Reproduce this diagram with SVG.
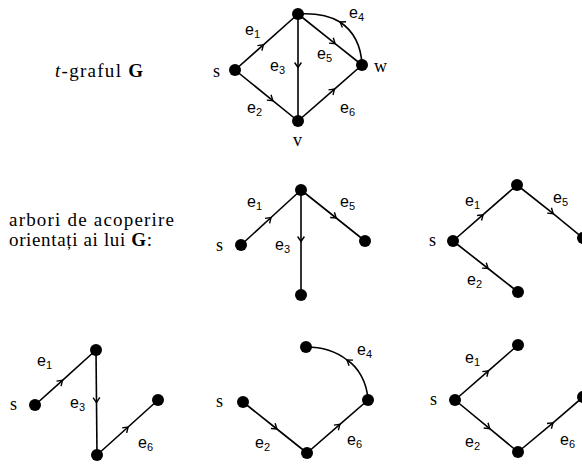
<svg xmlns="http://www.w3.org/2000/svg" width="582" height="464" viewBox="0 0 582 464">
<defs>
<marker id="arr" markerUnits="userSpaceOnUse" markerWidth="12" markerHeight="12" refX="0" refY="0" viewBox="-6 -6 12 12" orient="auto">
<path d="M-5,-3.4 L0,0 L-5,3.4" fill="none" stroke="#000" stroke-width="1.4"/>
</marker>
<style>
.e{fill:none;stroke:#000;stroke-width:1.6;marker-mid:url(#arr)}
.n{fill:#000}
.el{font-family:"Liberation Sans",Arial,sans-serif;font-size:16px;fill:#000}
.sub{font-size:11px}
.vl{font-family:"Liberation Serif","Times New Roman",serif;font-size:18px;fill:#000}
.tt{font-family:"Liberation Serif","Times New Roman",serif;font-size:19px;fill:#000}
</style>
</defs>
<rect width="582" height="464" fill="#fff"/>

<g id="captions">
<text class="tt" x="55" y="77" textLength="88" lengthAdjust="spacing"><tspan font-style="italic">t</tspan>-graful <tspan font-weight="bold">G</tspan></text>
<text class="tt" x="9" y="226" textLength="165" lengthAdjust="spacing">arbori de acoperire</text>
<text class="tt" x="9" y="246" textLength="143" lengthAdjust="spacing">orientați ai lui <tspan font-weight="bold">G</tspan>:</text>
</g>

<g id="connectors">
<!-- main graph -->
<path class="e" d="M235,70 L263.4,44.8 L298,14"/>
<path class="e" d="M235,70 L272.8,100.6 L298,121"/>
<path class="e" d="M298,14 L298,67.5 L298,121"/>
<path class="e" d="M298,14 L335.1,43.6 L362,65"/>
<path class="e" d="M298,121 L334.5,89.1 L362,65"/>
<path class="e" d="M362,65 C361,44 352,30 340,22 C330,16 315,13 298,14"/>
<!-- tree 1 -->
<path class="e" d="M241,245 L271,217.5 L301,190"/>
<path class="e" d="M301,190 L301,241.5 L301,295"/>
<path class="e" d="M301,190 L336.2,218 L365,241"/>
<!-- tree 2 -->
<path class="e" d="M453,241 L483.1,214.7 L517,185"/>
<path class="e" d="M517,185 L553.2,213.6 L583,238"/>
<path class="e" d="M453,241 L488.1,268.5 L518,292"/>
<!-- tree A -->
<path class="e" d="M35,405 L62.5,380.3 L96,350"/>
<path class="e" d="M96,350 L96.5,402.5 L97,455"/>
<path class="e" d="M97,455 L128.1,427 L158,400"/>
<!-- tree B -->
<path class="e" d="M243,402 L276.9,429 L307,453"/>
<path class="e" d="M307,453 L339.9,424.4 L368,400"/>
<path class="e" d="M368,400 C367,382 358,367 347,360 C337,352 322,347 306,347"/>
<!-- tree C -->
<path class="e" d="M455,400 L488.4,370.9 L518,345"/>
<path class="e" d="M455,400 L489.7,428.6 L518,452"/>
<path class="e" d="M518,452 L553,422.9 L583,397"/>
</g>

<g id="edge-labels">
<text class="el" x="245" y="35">e<tspan class="sub" dy="3">1</tspan></text>
<text class="el" x="247" y="113">e<tspan class="sub" dy="3">2</tspan></text>
<text class="el" x="270" y="71">e<tspan class="sub" dy="3">3</tspan></text>
<text class="el" x="349" y="18">e<tspan class="sub" dy="3">4</tspan></text>
<text class="el" x="317" y="59">e<tspan class="sub" dy="3">5</tspan></text>
<text class="el" x="340" y="113">e<tspan class="sub" dy="3">6</tspan></text>

<text class="el" x="247" y="207">e<tspan class="sub" dy="3">1</tspan></text>
<text class="el" x="275" y="250">e<tspan class="sub" dy="3">3</tspan></text>
<text class="el" x="340" y="207">e<tspan class="sub" dy="3">5</tspan></text>

<text class="el" x="465" y="206">e<tspan class="sub" dy="3">1</tspan></text>
<text class="el" x="553" y="203">e<tspan class="sub" dy="3">5</tspan></text>
<text class="el" x="467" y="285">e<tspan class="sub" dy="3">2</tspan></text>

<text class="el" x="37" y="366">e<tspan class="sub" dy="3">1</tspan></text>
<text class="el" x="70" y="408">e<tspan class="sub" dy="3">3</tspan></text>
<text class="el" x="138" y="448">e<tspan class="sub" dy="3">6</tspan></text>

<text class="el" x="255" y="448">e<tspan class="sub" dy="3">2</tspan></text>
<text class="el" x="347" y="445">e<tspan class="sub" dy="3">6</tspan></text>
<text class="el" x="357" y="355">e<tspan class="sub" dy="3">4</tspan></text>

<text class="el" x="465" y="363">e<tspan class="sub" dy="3">1</tspan></text>
<text class="el" x="465" y="447">e<tspan class="sub" dy="3">2</tspan></text>
<text class="el" x="560" y="445">e<tspan class="sub" dy="3">6</tspan></text>
</g>

<g id="g-s"><circle class="n" cx="235" cy="70" r="6"/><text class="vl" x="213" y="77">s</text></g>
<g id="g-top"><circle class="n" cx="298" cy="14" r="6"/></g>
<g id="g-w"><circle class="n" cx="362" cy="65" r="6"/><text class="vl" x="374" y="72">w</text></g>
<g id="g-v"><circle class="n" cx="298" cy="121" r="6"/><text class="vl" x="293" y="146">v</text></g>

<g id="t1-s"><circle class="n" cx="241" cy="245" r="6"/><text class="vl" x="216" y="251">s</text></g>
<g id="t1-top"><circle class="n" cx="301" cy="190" r="6"/></g>
<g id="t1-w"><circle class="n" cx="365" cy="241" r="6"/></g>
<g id="t1-v"><circle class="n" cx="301" cy="295" r="6"/></g>

<g id="t2-s"><circle class="n" cx="453" cy="241" r="6"/><text class="vl" x="429" y="246">s</text></g>
<g id="t2-top"><circle class="n" cx="517" cy="185" r="6"/></g>
<g id="t2-w"><circle class="n" cx="583" cy="238" r="6"/></g>
<g id="t2-v"><circle class="n" cx="518" cy="292" r="6"/></g>

<g id="t3-s"><circle class="n" cx="35" cy="405" r="6"/><text class="vl" x="10" y="410">s</text></g>
<g id="t3-top"><circle class="n" cx="96" cy="350" r="6"/></g>
<g id="t3-w"><circle class="n" cx="158" cy="400" r="6"/></g>
<g id="t3-v"><circle class="n" cx="97" cy="455" r="6"/></g>

<g id="t4-s"><circle class="n" cx="243" cy="402" r="6"/><text class="vl" x="216" y="407">s</text></g>
<g id="t4-top"><circle class="n" cx="306" cy="347" r="6"/></g>
<g id="t4-w"><circle class="n" cx="368" cy="400" r="6"/></g>
<g id="t4-v"><circle class="n" cx="307" cy="453" r="6"/></g>

<g id="t5-s"><circle class="n" cx="455" cy="400" r="6"/><text class="vl" x="430" y="405">s</text></g>
<g id="t5-top"><circle class="n" cx="518" cy="345" r="6"/></g>
<g id="t5-w"><circle class="n" cx="583" cy="397" r="6"/></g>
<g id="t5-v"><circle class="n" cx="518" cy="452" r="6"/></g>
</svg>
